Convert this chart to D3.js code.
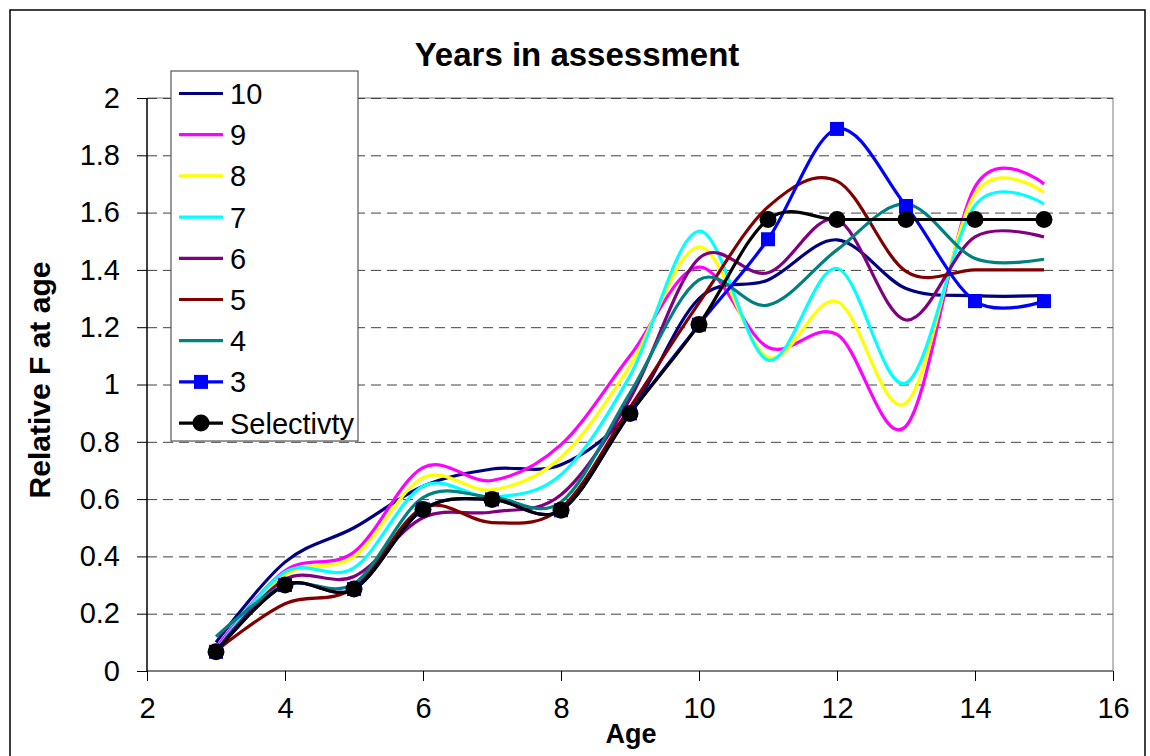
<!DOCTYPE html>
<html>
<head>
<meta charset="utf-8">
<script src="https://cdn.jsdelivr.net/npm/d3@7"></script>
<style>
  body { margin: 0; background: #fff; }
  text { font-family: "Liberation Sans", Arial, sans-serif; }
</style>
</head>
<body>
<svg id="svgMain" width="1150" height="756"></svg>
<script>
// data
const ages = [3, 4, 5, 6, 7, 8, 9, 10, 11, 12, 13, 14, 15];
const yr10 = [0.10, 0.38, 0.50, 0.645, 0.705, 0.72, 0.905, 1.30, 1.365, 1.505, 1.335, 1.31, 1.31];
const yr9 = [0.08, 0.35, 0.415, 0.71, 0.665, 0.79, 1.10, 1.41, 1.13, 1.175, 0.855, 1.69, 1.70];
const yr8 = [0.07, 0.335, 0.40, 0.675, 0.632, 0.745, 1.065, 1.48, 1.095, 1.29, 0.935, 1.665, 1.67];
const yr7 = [0.07, 0.345, 0.36, 0.645, 0.607, 0.685, 1.03, 1.535, 1.085, 1.405, 1.005, 1.625, 1.63];
const yr6 = [0.07, 0.32, 0.33, 0.535, 0.555, 0.615, 0.95, 1.44, 1.39, 1.575, 1.225, 1.515, 1.515];
const yr5 = [0.07, 0.235, 0.29, 0.57, 0.518, 0.568, 0.92, 1.285, 1.62, 1.71, 1.395, 1.40, 1.40];
const yr4 = [0.12, 0.30, 0.305, 0.605, 0.607, 0.59, 0.97, 1.365, 1.277, 1.47, 1.63, 1.44, 1.437];
const yr3 = [0.067, 0.30, 0.286, 0.564, 0.599, 0.561, 0.899, 1.209, 1.507, 1.892, 1.623, 1.291, 1.291];
const selectivity = [0.067, 0.30, 0.286, 0.564, 0.599, 0.561, 0.899, 1.209, 1.576, 1.576, 1.576, 1.576, 1.576];

const seriesNames = ["10", "9", "8", "7", "6", "5", "4", "3", "Selectivty"];
const seriesColors = ["#000080", "#ff00ff", "#ffff00", "#00ffff", "#800080", "#800000", "#008080", "#0000ff", "#000000"];
const seriesMarkers = ["none", "none", "none", "none", "none", "none", "none", "square", "circle"];
const seriesValues = [yr10, yr9, yr8, yr7, yr6, yr5, yr4, yr3, selectivity];

const xTicks = [2, 4, 6, 8, 10, 12, 14, 16];
const yTicks = [0, 0.2, 0.4, 0.6, 0.8, 1, 1.2, 1.4, 1.6, 1.8, 2];

let svgMain = d3.select("#svgMain");
var margin = { top: 98, right: 37, bottom: 85, left: 147 };
var plotWidth = 1150 - margin.left - margin.right;
var plotHeight = 756 - margin.top - margin.bottom;

// outer chart frame
svgMain.append("rect")
    .attr("x", 10).attr("y", 10)
    .attr("width", 1135).attr("height", 760)
    .attr("fill", "#fff")
    .attr("stroke", "#000")
    .attr("stroke-width", 1.5);

//Title
svgMain.append("text")
    .attr("x", 577)
    .attr("y", 66)
    .attr("font-size", "33px")
    .attr("font-weight", "bold")
    .attr("text-anchor", "middle")
    .text("Years in assessment");

const xScale = d3.scaleLinear().domain([2, 16]).range([0, plotWidth]);
const yScale = d3.scaleLinear().domain([0, 2]).range([plotHeight, 0]);

const plot = svgMain.append("g")
    .attr("transform", "translate(" + margin.left + "," + margin.top + ")");

// plot area border (top/right gray)
plot.append("path")
    .attr("d", "M0,0H" + plotWidth + "V" + plotHeight)
    .attr("fill", "none")
    .attr("stroke", "#a8a8a8")
    .attr("stroke-width", 1.5);

//Gridlines
let yGridlines = d3.axisLeft(yScale).tickValues(yTicks.slice(1)).tickSize(-plotWidth).tickFormat("");
plot.append("g")
    .attr("class", "y gridlines")
    .call(yGridlines)
    .call(g => g.select(".domain").remove())
    .selectAll("line")
    .attr("stroke", "#404040")
    .attr("stroke-dasharray", "10,6");

//Axis
let xAxis = d3.axisBottom(xScale).tickValues(xTicks).tickSize(10).tickPadding(16).tickFormat(d3.format("~g"));
plot.append("g")
    .attr("transform", "translate(0," + plotHeight + ")")
    .style("font-size", "29px")
    .style("font-family", "Liberation Sans, Arial, sans-serif")
    .call(xAxis)
    .call(g => g.select(".domain").attr("d", "M0,0H" + plotWidth).attr("stroke", "#555").attr("stroke-width", 1.5));

let yAxis = d3.axisLeft(yScale).tickValues(yTicks).tickSize(10).tickPadding(17).tickFormat(d3.format("~g"));
plot.append("g")
    .style("font-size", "29px")
    .style("font-family", "Liberation Sans, Arial, sans-serif")
    .call(yAxis)
    .call(g => g.select(".domain").attr("d", "M0,0V" + plotHeight).attr("stroke-width", 1.5));

// x label
svgMain.append("text")
    .attr("x", 631)
    .attr("y", 743)
    .attr("font-size", "27px")
    .attr("font-weight", "bold")
    .attr("text-anchor", "middle")
    .text("Age");

// y label
svgMain.append("text")
    .attr("x", -380)
    .attr("y", 50)
    .attr("font-size", "30px")
    .attr("font-weight", "bold")
    .attr("text-anchor", "middle")
    .attr("transform", "rotate(-90)")
    .text("Relative F at age");

// lines
const line = d3.line()
    .x((d, i) => xScale(ages[i]))
    .y(d => yScale(d))
    .curve(d3.curveCardinal.tension(0));

seriesValues.forEach((vals, k) => {
    plot.append("path")
        .attr("d", line(vals))
        .attr("fill", "none")
        .attr("stroke", seriesColors[k])
        .attr("stroke-width", 3.2);
});

seriesValues.forEach((vals, k) => {
    if (seriesMarkers[k] === "square") {
        plot.selectAll(null).data(vals).enter().append("rect")
            .attr("x", (d, i) => xScale(ages[i]) - 7)
            .attr("y", d => yScale(d) - 7)
            .attr("width", 14).attr("height", 14)
            .attr("fill", seriesColors[k]);
    } else if (seriesMarkers[k] === "circle") {
        plot.selectAll(null).data(vals).enter().append("circle")
            .attr("cx", (d, i) => xScale(ages[i]))
            .attr("cy", d => yScale(d))
            .attr("r", 8.5)
            .attr("fill", seriesColors[k]);
    }
});

// legend
const legend = svgMain.append("g");
legend.append("rect")
    .attr("x", 171).attr("y", 71)
    .attr("width", 187).attr("height", 370)
    .attr("fill", "#fff")
    .attr("stroke", "#555")
    .attr("stroke-width", 1.2);

seriesNames.forEach((name, k) => {
    let ly = 93.5 + k * 41.2;
    legend.append("line")
        .attr("x1", 179).attr("x2", 223)
        .attr("y1", ly).attr("y2", ly)
        .attr("stroke", seriesColors[k])
        .attr("stroke-width", 3.2);
    if (seriesMarkers[k] === "square") {
        legend.append("rect")
            .attr("x", 194).attr("y", ly - 7)
            .attr("width", 14).attr("height", 14)
            .attr("fill", seriesColors[k]);
    } else if (seriesMarkers[k] === "circle") {
        legend.append("circle")
            .attr("cx", 201).attr("cy", ly).attr("r", 8.5)
            .attr("fill", seriesColors[k]);
    }
    legend.append("text")
        .attr("x", 230)
        .attr("y", ly + 10.5)
        .attr("font-size", "29px")
        .text(name);
});
</script>
</body>
</html>
